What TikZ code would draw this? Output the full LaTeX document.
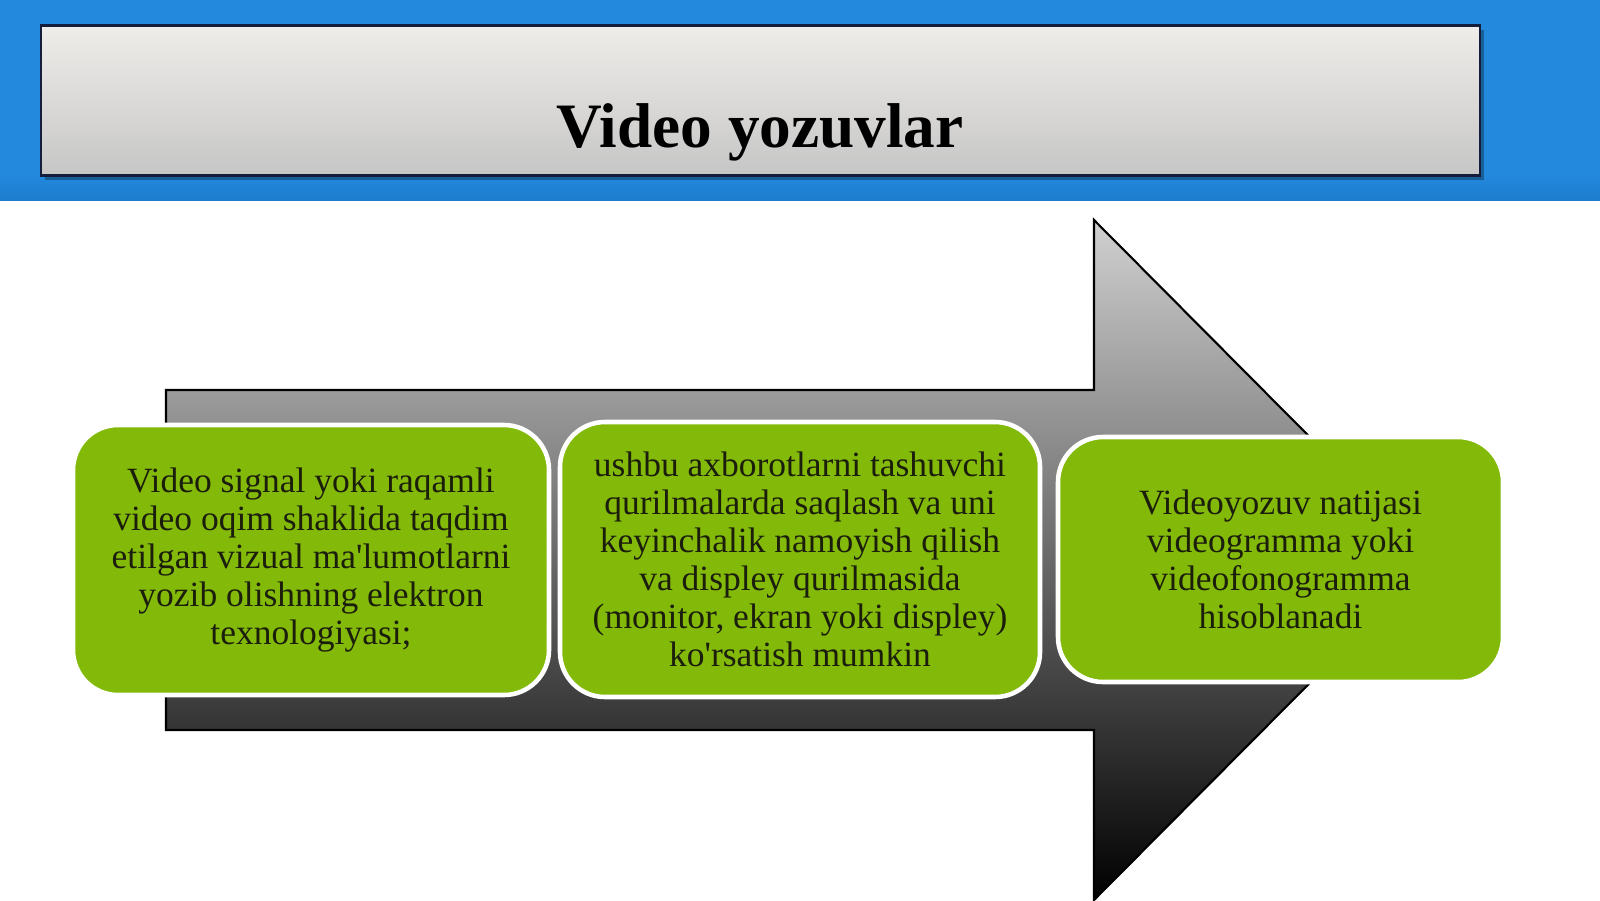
\documentclass[tikz,border=0pt]{standalone}
\usepackage{fontspec}
\setmainfont{Liberation Serif}
\definecolor{headblue}{RGB}{34,137,220}
\definecolor{headshade}{RGB}{30,124,205}
\definecolor{framenavy}{RGB}{20,30,60}
\definecolor{boxgreen}{RGB}{131,186,10}
\definecolor{boxtext}{RGB}{28,30,12}
\begin{document}
\begin{tikzpicture}[
  stagebox/.style={rounded corners=0.45cm, fill=boxgreen, draw=white, line width=1.3pt,
    align=center, text=boxtext, inner sep=0pt, font=\fontsize{10.1}{10.8}\selectfont}
]
  \useasboundingbox (0,0) rectangle (16,9);
  \fill[white] (0,0) rectangle (16,9);
  \fill[headblue] (0,6.99) rectangle (16,9);
  \shade[top color=headblue, bottom color=headshade] (0,6.99) rectangle (16,7.25);

  \fill[black,opacity=0.3] (0.45,7.20) rectangle (14.84,8.70);
  \shade[top color={rgb,255:red,239;green,237;blue,234}, bottom color={rgb,255:red,198;green,198;blue,198}, draw=framenavy, line width=0.6pt]
    (0.41,7.245) rectangle (14.80,8.745);
  \node[font=\fontsize{18}{20}\selectfont\bfseries, anchor=base] (title) at (7.60,7.52) {Video yozuvlar};

  \shade[top color={rgb,255:red,208;green,208;blue,208}, bottom color=black, draw=black, line width=0.6pt]
    (1.66,5.10) -- (10.94,5.10) -- (10.94,6.80) -- (14.32,3.40) -- (10.94,0) -- (10.94,1.70) -- (1.66,1.70) -- cycle;

  \node[stagebox, minimum width=4.76cm, minimum height=2.70cm] (signal) at (3.11,3.40)
    {Video signal yoki raqamli\\ video oqim shaklida taqdim\\ etilgan vizual ma\textquotesingle lumotlarni\\ yozib olishning elektron\\ texnologiyasi;};
  \node[stagebox, minimum width=4.80cm, minimum height=2.75cm] (storage) at (8.00,3.405)
    {ushbu axborotlarni tashuvchi\\ qurilmalarda saqlash va uni\\ keyinchalik namoyish qilish\\ va displey qurilmasida\\ (monitor, ekran yoki displey)\\ ko\textquotesingle rsatish mumkin};
  \node[stagebox, minimum width=4.45cm, minimum height=2.45cm] (result) at (12.805,3.405)
    {Videoyozuv natijasi\\ videogramma yoki\\ videofonogramma\\ hisoblanadi};
\end{tikzpicture}
\end{document}
